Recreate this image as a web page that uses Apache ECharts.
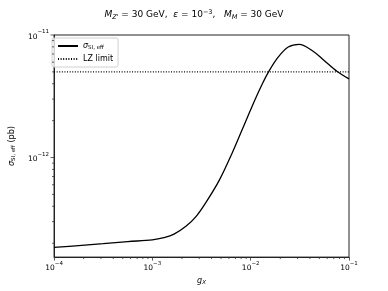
<!DOCTYPE html>
<html><head><meta charset="utf-8">
<script src="https://cdn.jsdelivr.net/npm/echarts@6/dist/echarts.min.js"></script>
<style>html,body{margin:0;padding:0;background:#fff}#c{width:388px;height:291px}</style>
</head><body><div id="c"></div>
<script>
// g_X values and sigma_SI,eff (pb)
const gx = [1e-4, 1.78e-4, 3.16e-4, 5.62e-4, 1e-3, 1.31e-3, 1.66e-3, 2.21e-3, 2.79e-3, 3.51e-3, 4.83e-3, 6.52e-3, 8.2e-3, 1.03e-2, 1.3e-2, 1.52e-2, 1.91e-2, 2.41e-2, 3.1e-2, 4.38e-2, 5.51e-2, 7.59e-2, 1e-1];
const sigma = [1.85e-13, 1.91e-13, 1.98e-13, 2.06e-13, 2.13e-13, 2.22e-13, 2.37e-13, 2.76e-13, 3.31e-13, 4.3e-13, 6.6e-13, 1.1e-12, 1.69e-12, 2.6e-12, 3.92e-12, 5.0e-12, 6.62e-12, 7.98e-12, 8.4e-12, 7.31e-12, 6.26e-12, 5.04e-12, 4.38e-12];
const lzLimitX = [1e-4, 1e-1];
const lzLimit = [5.0e-12, 5.0e-12];
const xMinorTicks = [2e-4,3e-4,4e-4,5e-4,6e-4,7e-4,8e-4,9e-4,2e-3,3e-3,4e-3,5e-3,6e-3,7e-3,8e-3,9e-3,2e-2,3e-2,4e-2,5e-2,6e-2,7e-2,8e-2,9e-2];
const yMajorTicks = [1e-12, 1e-11];
const yMinorTicks = [2e-13,3e-13,4e-13,5e-13,6e-13,7e-13,8e-13,9e-13,2e-12,3e-12,4e-12,5e-12,6e-12,7e-12,8e-12,9e-12];
const xMin = 1e-4, xMax = 1e-1, yMin = 1.54e-13, yMax = 1e-11;

const FONT = 'DejaVu Sans';
const supRich = {
  b: {fontSize: 7.5, fontFamily: FONT, color: '#000', lineHeight: 12, verticalAlign: 'bottom'},
  sup: {fontSize: 5.5, fontFamily: FONT, color: '#000', lineHeight: 12, verticalAlign: 'top'}
};
function powLabel(v) {
  const e = Math.log10(v);
  const r = Math.round(e);
  if (Math.abs(e - r) > 1e-6) return '';
  return '{b|10}{sup|' + String(r).replace('-', '\u2212') + '}';
}
const tickColor = '#333';
function tickSeries(data, dir, len) {
  return {
    type: 'custom', silent: true, clip: false, z: 10,
    data: data,
    renderItem: function (params, api) {
      const p = api.coord([api.value(0), api.value(1)]);
      const s = dir === 'x'
        ? {x1: p[0], y1: p[1], x2: p[0], y2: p[1] + len}
        : {x1: p[0], y1: p[1], x2: p[0] - len, y2: p[1]};
      return {type: 'line', shape: s, style: {stroke: tickColor, lineWidth: 0.8}};
    }
  };
}
const chart = echarts.init(document.getElementById('c'), null, {renderer: 'canvas'});
chart.setOption({
  animation: false,
  backgroundColor: '#fff',
  title: {
    text: "{i|M}{sub|Z'}{t| = 30 GeV,  }{i|ε}{t| = 10}{sup|\u22123}{t|,   }{i|M}{sub|M}{t| = 30 GeV}",
    left: 'center', top: 4,
    textStyle: {
      fontWeight: 'normal',
      rich: {
        t: {fontFamily: FONT, fontSize: 9, fontWeight: 'normal', color: '#000', lineHeight: 12, verticalAlign: 'middle'},
        i: {fontFamily: FONT, fontSize: 9, fontWeight: 'normal', fontStyle: 'italic', color: '#000', lineHeight: 12, verticalAlign: 'middle'},
        sub: {fontFamily: FONT, fontSize: 6.5, fontWeight: 'normal', fontStyle: 'italic', color: '#000', lineHeight: 12, verticalAlign: 'bottom'},
        sup: {fontFamily: FONT, fontSize: 6.5, fontWeight: 'normal', color: '#000', lineHeight: 12, verticalAlign: 'top'}
      }
    }
  },
  grid: {left: 48, right: 39, top: 35, bottom: 33, show: true, borderColor: '#222', borderWidth: 1, backgroundColor: 'transparent'},
  legend: {
    left: 52, top: 38, orient: 'vertical',
    data: ['sigma', 'LZ limit'],
    itemWidth: 20, itemHeight: 8, itemGap: 4,
    padding: [4, 5, 4, 5],
    borderColor: '#d0d0d0', borderWidth: 1, borderRadius: 2, backgroundColor: 'rgba(255,255,255,0.8)',
    itemStyle: {opacity: 0},
    formatter: function (n) { return n === 'sigma' ? '{i|σ}{sub|SI, eff}' : '{t|LZ limit}'; },
    textStyle: {
      rich: {
        t: {fontFamily: FONT, fontSize: 8, color: '#000', lineHeight: 10},
        i: {fontFamily: FONT, fontSize: 8, fontStyle: 'italic', color: '#000', lineHeight: 10, verticalAlign: 'middle'},
        sub: {fontFamily: FONT, fontSize: 5.5, color: '#000', lineHeight: 10, verticalAlign: 'bottom'}
      }
    }
  },
  xAxis: {
    type: 'log', logBase: 10, min: xMin, max: xMax,
    name: '{i|g}{sub|X}', nameLocation: 'middle', nameGap: 12,
    nameTextStyle: {rich: {
      i: {fontFamily: FONT, fontSize: 8, fontStyle: 'italic', color: '#000', lineHeight: 10, verticalAlign: 'middle'},
      sub: {fontFamily: FONT, fontSize: 5.5, fontStyle: 'italic', color: '#000', lineHeight: 10, verticalAlign: 'bottom'}
    }},
    axisLine: {show: true, lineStyle: {color: '#222', width: 1}},
    axisTick: {show: true, length: 3.5, inside: false, lineStyle: {color: tickColor, width: 0.8}},
    axisLabel: {formatter: powLabel, rich: supRich, margin: 3},
    splitLine: {show: false}, minorTick: {show: false}
  },
  yAxis: {
    type: 'log', logBase: 10, min: yMin, max: yMax,
    name: '{i|σ}{sub|SI, eff}{t| (pb)}', nameLocation: 'middle', nameGap: 35, nameRotate: 90,
    nameTextStyle: {rich: {
      t: {fontFamily: FONT, fontSize: 8, color: '#000', lineHeight: 10, verticalAlign: 'middle'},
      i: {fontFamily: FONT, fontSize: 8, fontStyle: 'italic', color: '#000', lineHeight: 10, verticalAlign: 'middle'},
      sub: {fontFamily: FONT, fontSize: 5.5, color: '#000', lineHeight: 10, verticalAlign: 'bottom'}
    }},
    axisLine: {show: true, lineStyle: {color: '#222', width: 1}},
    axisTick: {show: false},
    axisLabel: {formatter: powLabel, rich: supRich, margin: 5},
    splitLine: {show: false}, minorTick: {show: false}
  },
  series: [
    {
      name: 'sigma', type: 'line', smooth: 0.35, symbol: 'none', showSymbol: false,
      data: gx.map((x, i) => [x, sigma[i]]),
      lineStyle: {color: '#000', width: 1.3, type: 'solid'}, itemStyle: {color: '#000', opacity: 0}, z: 5
    },
    {
      name: 'LZ limit', type: 'line', symbol: 'none', showSymbol: false,
      data: lzLimitX.map((x, i) => [x, lzLimit[i]]),
      lineStyle: {color: '#000', width: 1.1, type: [1, 1.6]}, itemStyle: {color: '#000', opacity: 0}, z: 4
    },
    tickSeries(xMinorTicks.map(v => [v, yMin]), 'x', 2),
    tickSeries(yMajorTicks.map(v => [xMin, v]), 'y', 3.5),
    tickSeries(yMinorTicks.map(v => [xMin, v]), 'y', 2)
  ]
});
</script></body></html>
